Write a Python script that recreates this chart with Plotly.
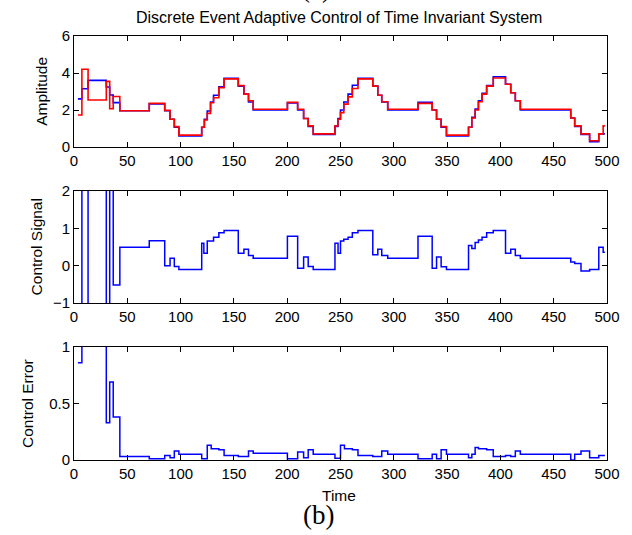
import plotly.graph_objects as go

# ---------------- data ----------------
t_end = 498

amp_t = [3.7, 7.4, 13.2, 30.3, 33.5, 36.8, 43, 70.6, 85.1, 90.1, 94.1, 98.4,
         119.8, 122.3, 125.0, 128.1, 130.9, 135.9, 140.8, 154.1, 159.4, 163.7, 168.1,
         200.2, 209.8, 215.4, 219.7, 224.4, 244.8, 247.6, 250, 253.1, 257.1, 261.1, 266.4,
         280.3, 285, 288.7, 294.3, 322.7, 336, 340.1, 344.4, 349.4,
         370.1, 373.2, 376.3, 379.4, 382.8, 387.1, 393.3, 404.8, 409.7, 414, 418.7,
         466, 469.7, 475.6, 483.7, 492.3, 496.4]
amp_blue = [2.6, 3.15, 3.6, 3.24, 2.81, 2.4, 1.96, 2.33, 1.96, 1.5, 1.07, 0.6,
            1.07, 1.5, 1.95, 2.43, 2.8, 3.25, 3.71, 3.29, 2.86, 2.43, 2.0,
            2.38, 2.0, 1.54, 1.11, 0.68, 1.11, 1.54, 2.0, 2.43, 2.86, 3.34, 3.71,
            3.29, 2.8, 2.43, 2.0, 2.41, 2.0, 1.5, 1.07, 0.6,
            1.07, 1.6, 2.05, 2.5, 2.9, 3.32, 3.8, 3.39, 2.93, 2.5, 2.0,
            1.57, 1.11, 0.68, 0.29, 0.71, 0.71]
amp_red = [1.73, 4.2, 2.54, 3.55, 2.07, 2.73, 1.96, 2.36, 1.98, 1.5, 1.1, 0.64,
           1.07, 1.46, 1.82, 2.39, 2.66, 3.21, 3.68, 3.32, 2.86, 2.5, 2.04,
           2.41, 2.04, 1.54, 1.14, 0.71, 1.14, 1.5, 1.86, 2.32, 2.71, 3.16, 3.68,
           3.29, 2.8, 2.45, 2.04, 2.36, 2.0, 1.5, 1.1, 0.64,
           1.07, 1.57, 2.0, 2.45, 2.86, 3.29, 3.73, 3.39, 2.93, 2.5, 2.04,
           1.57, 1.14, 0.71, 0.34, 0.71, 1.14]

u_t = [3.7, 7.4, 13.2, 30.3, 33.5, 36.8, 43, 70.6, 85.1, 90.1, 94.1, 98.4,
       119.8, 121.8, 125.0, 130.9, 135.9, 140.8, 154.1, 159.4, 163.7, 168.1,
       200.2, 209.8, 215.4, 219.7, 224.4, 244.8, 247.7, 250, 253.1, 257.1, 261.1, 266.4,
       280.3, 285, 288.7, 294.3, 322.7, 336, 340.1, 344.4, 349.4,
       370.1, 373.2, 376.3, 379.4, 382.8, 387.1, 393.3, 404.8, 409.7, 414, 418.7,
       466, 469.7, 475.6, 483.7, 492.3, 496.4]
u_val = [8, -8, 8, -8, 8, -0.52, 0.49, 0.67, 0.0, 0.2, -0.02, -0.1,
         0.6, 0.33, 0.66, 0.76, 0.88, 0.94, 0.33, 0.44, 0.27, 0.2,
         0.79, -0.07, 0.23, -0.02, -0.1, 0.6, 0.33, 0.66, 0.71, 0.76, 0.88, 0.94,
         0.29, 0.44, 0.27, 0.2, 0.79, -0.07, 0.23, -0.03, -0.1,
         0.54, 0.46, 0.62, 0.69, 0.76, 0.88, 0.94, 0.33, 0.44, 0.27, 0.2,
         0.1, 0.06, -0.14, -0.1, 0.49, 0.36]

e_t = [3.7, 7.4, 30.3, 33.5, 36.8, 43, 70.6, 85.1, 90.1, 94.1, 98.4,
       119.8, 125.0, 128.7, 135.9, 140.8, 154.1, 163.7, 168.1,
       200.2, 209.8, 215.4, 219.7, 224.4, 244.8, 250, 253.7, 261.1, 266.4,
       280.3, 288.7, 294.3, 322.7, 336, 340.1, 344.4, 349.4,
       370.1, 373.2, 376.3, 379.4, 387.1, 393.3, 404.8, 409.7, 414, 418.7,
       466, 469.7, 475.6, 483.7, 492.3]
e_val = [0.86, 1.6, 0.33, 0.69, 0.38, 0.03, 0.01, 0.04, 0.02, 0.08, 0.05,
         0.01, 0.13, 0.1, 0.09, 0.04, 0.03, 0.08, 0.06,
         0.01, 0.07, 0.02, 0.09, 0.05, 0.015, 0.13, 0.1, 0.09, 0.04,
         0.03, 0.08, 0.05, 0.01, 0.05, 0.01, 0.09, 0.05,
         0.02, 0.05, 0.11, 0.1, 0.09, 0.03, 0.04, 0.03, 0.08, 0.05,
         0.0, 0.05, 0.08, 0.02, 0.04]

x_ticks = [0, 50, 100, 150, 200, 250, 300, 350, 400, 450, 500]
amp_ticks = [0, 2, 4, 6]
u_ticks = [-1, 0, 1, 2]
e_ticks = [0, 0.5, 1]
e_ticklabels = ["0", "0.5", "1"]

title_text = "Discrete Event Adaptive Control of Time Invariant System"

# ---------------- figure ----------------
W, H = 632, 535
L, R, T, B = 74, 19, 36, 75
plot_h = H - T - B


def ext(t, v):
    return list(t) + [t_end], list(v) + [v[-1]]


def ydom(top_px, bot_px):
    return [(H - B - bot_px) / plot_h, (H - B - top_px) / plot_h]


def py(px):
    return (H - B - px) / plot_h


def px_x(px):
    return (px - L) / (W - L - R)


fig = go.Figure()
BLUE = "rgb(0,0,255)"
RED = "rgb(255,0,0)"

x, y = ext(amp_t, amp_blue)
fig.add_trace(go.Scatter(x=x, y=y, mode="lines", line=dict(color=BLUE, width=1.6, shape="hv"),
                         xaxis="x", yaxis="y", showlegend=False))
x, y = ext(amp_t, amp_red)
fig.add_trace(go.Scatter(x=x, y=y, mode="lines", line=dict(color=RED, width=1.6, shape="hv"),
                         xaxis="x", yaxis="y", showlegend=False))
x, y = ext(u_t, u_val)
fig.add_trace(go.Scatter(x=x, y=y, mode="lines", line=dict(color=BLUE, width=1.5, shape="hv"),
                         xaxis="x2", yaxis="y2", showlegend=False))
x, y = ext(e_t, e_val)
fig.add_trace(go.Scatter(x=x, y=y, mode="lines", line=dict(color=BLUE, width=1.5, shape="hv"),
                         xaxis="x3", yaxis="y3", showlegend=False))

FONT = "Liberation Sans, Arial, sans-serif"
ax_common = dict(showline=True, linecolor="black", linewidth=1, mirror="ticks",
                 ticks="inside", ticklen=5, tickcolor="black", tickwidth=1,
                 showgrid=False, zeroline=False,
                 tickfont=dict(family=FONT, size=15, color="black"))

fig.update_layout(
    width=W, height=H,
    margin=dict(l=L, r=R, t=T, b=B, pad=0),
    paper_bgcolor="white", plot_bgcolor="white",
    xaxis=dict(domain=[0, 1], range=[0, 500], tickvals=x_ticks, anchor="y", **ax_common),
    yaxis=dict(domain=ydom(36, 147), range=[0, 6], tickvals=amp_ticks, anchor="x", **ax_common),
    xaxis2=dict(domain=[0, 1], range=[0, 500], tickvals=x_ticks, anchor="y2", **ax_common),
    yaxis2=dict(domain=ydom(191, 303), range=[-1, 2], tickvals=u_ticks, anchor="x2", **ax_common),
    xaxis3=dict(domain=[0, 1], range=[0, 500], tickvals=x_ticks, anchor="y3", **ax_common),
    yaxis3=dict(domain=ydom(347, 460), range=[0, 1], tickvals=e_ticks, ticktext=e_ticklabels,
                anchor="x3", **ax_common),
)

ann_font = dict(family=FONT, size=15.5, color="black")
annotations = [
    dict(text=title_text, x=px_x(341.5), y=py(17), xref="paper", yref="paper",
         showarrow=False, xanchor="center", yanchor="middle",
         font=dict(family=FONT, size=16, color="black")),
    dict(text="Amplitude", x=px_x(41), y=py(91.5), xref="paper", yref="paper",
         showarrow=False, textangle=-90, xanchor="center", yanchor="middle", font=ann_font),
    dict(text="Control Signal", x=px_x(36), y=py(247), xref="paper", yref="paper",
         showarrow=False, textangle=-90, xanchor="center", yanchor="middle", font=ann_font),
    dict(text="Control Error", x=px_x(27), y=py(403.5), xref="paper", yref="paper",
         showarrow=False, textangle=-90, xanchor="center", yanchor="middle", font=ann_font),
    dict(text="Time", x=px_x(342), y=py(495), xref="paper", yref="paper",
         showarrow=False, xanchor="center", yanchor="middle", font=ann_font),
    dict(text="(b)", x=px_x(321), y=py(515), xref="paper", yref="paper",
         showarrow=False, xanchor="center", yanchor="middle",
         font=dict(family="Liberation Serif, Times New Roman, serif", size=27, color="black")),
    dict(text="(a)", x=px_x(319), y=py(-12), xref="paper", yref="paper",
         showarrow=False, xanchor="center", yanchor="middle",
         font=dict(family="Liberation Serif, Times New Roman, serif", size=27, color="black")),
]
fig.update_layout(annotations=annotations)

fig.write_html("out.html",
               config={"displayModeBar": False},
               post_script="document.body.style.margin='0';document.body.style.overflow='hidden';")
